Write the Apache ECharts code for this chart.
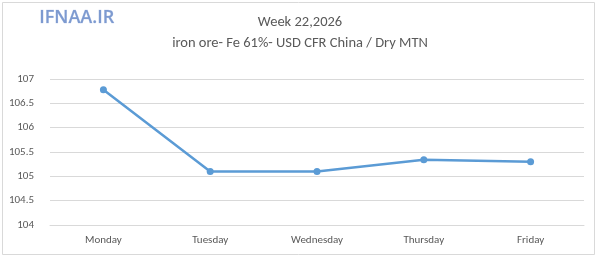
<!DOCTYPE html>
<html>
<head>
<meta charset="utf-8">
<script src="https://cdn.jsdelivr.net/npm/echarts@6/dist/echarts.min.js"></script>
<style>
html,body{margin:0;padding:0;background:#fff;}
#main{width:600px;height:276px;}
</style>
</head>
<body>
<div id="main"></div>
<script>
// week 22 data
var days=["Monday","Tuesday","Wednesday","Thursday","Friday"];
var prices=[106.78,105.1,105.1,105.34,105.3];
var yTicks=[104,104.5,105,105.5,106,106.5,107];

var chart=echarts.init(document.getElementById('main'));
var fontFam='Carlito, "Open Sans", "DejaVu Sans", sans-serif';

chart.setOption({
    backgroundColor:'#fff',
    graphic:[
        {type:'rect',shape:{x:2.5,y:2.5,width:592,height:252},style:{fill:'none',stroke:'#d9d9d9',lineWidth:1}},
        {type:'text',left:39,top:9,style:{text:'IFNAA.IR',fill:'#7d9ad0',font:'600 18px "Open Sans", sans-serif',stroke:'#c9d6ee',lineWidth:0.5}}
    ],
    title:{
        text:'Week 22,2026',
        subtext:'iron ore- Fe 61%- USD CFR China / Dry MTN',
        left:'center',top:10,itemGap:6,
        textStyle:{color:'#595959',fontSize:14.5,fontWeight:'normal',fontFamily:fontFam},
        subtextStyle:{color:'#595959',fontSize:14.5,fontFamily:fontFam}
    },
    grid:{left:50,right:16,top:79,bottom:51,containLabel:false},
    xAxis:{
        type:'category',data:days,boundaryGap:true,
        axisLine:{show:true,lineStyle:{color:'#d9d9d9'}},
        axisTick:{show:false},
        axisLabel:{color:'#595959',fontSize:11,margin:10,fontFamily:fontFam}
    },
    yAxis:{
        type:'value',min:yTicks[0],max:yTicks[yTicks.length-1],interval:0.5,
        axisLine:{show:false},axisTick:{show:false},
        splitLine:{lineStyle:{color:'#d9d9d9'}},
        axisLabel:{color:'#595959',fontSize:11,margin:16,fontFamily:fontFam}
    },
    series:[{
        type:'line',data:prices,
        symbol:'circle',symbolSize:7,
        lineStyle:{color:'#5b9bd5',width:2.5},
        itemStyle:{color:'#5b9bd5'}
    }]
});
</script>
</body>
</html>
